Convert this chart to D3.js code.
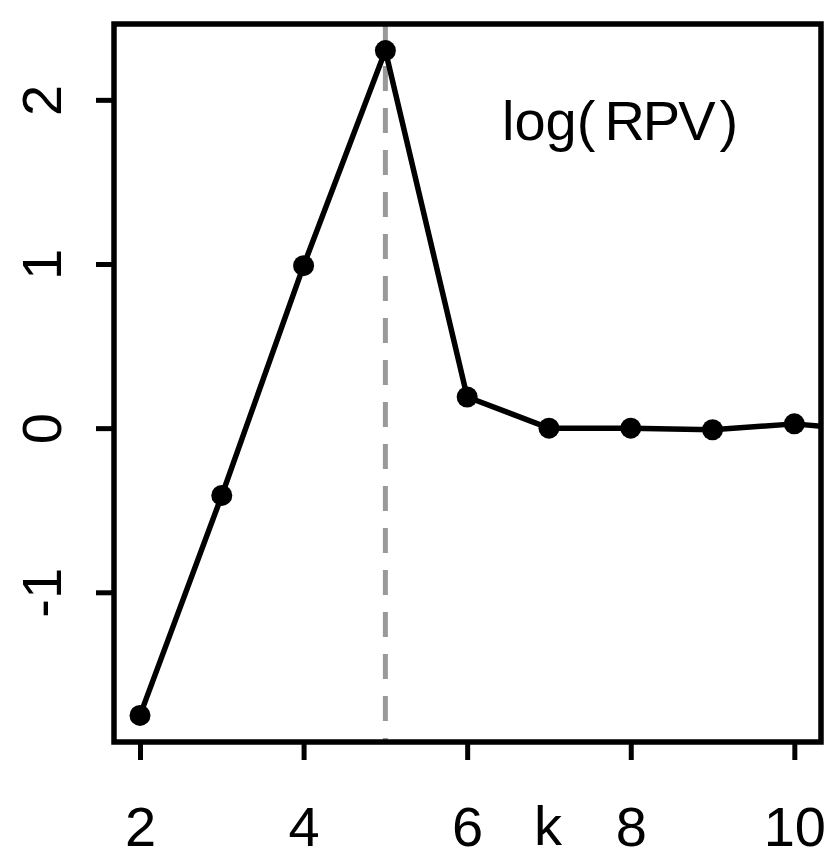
<!DOCTYPE html>
<html>
<head>
<meta charset="utf-8">
<script src="https://cdn.jsdelivr.net/npm/d3@7"></script>
<style>
  html, body { margin: 0; padding: 0; background: #fff; }
  svg { display: block; font-family: "Liberation Sans", Arial, sans-serif; }
</style>
</head>
<body>
<svg id="chart" width="828" height="859"></svg>
<script>
// Data
const kValues = [2, 3, 4, 5, 6, 7, 8, 9, 10, 11];
const logRPV = [-1.75, -0.41, 0.99, 2.30, 0.19, 0.0, 0.0, -0.01, 0.026, -0.02];
const xTicks = [2, 4, 6, 8, 10];
const yTicks = [-1, 0, 1, 2];
const optimalK = 5;
const xLabel = "k";
const panelLabel = ["log(", "RPV", ")"];

const box = { left: 114, right: 821, top: 24, bottom: 742 };

const svg = d3.select("#chart");

const x = d3.scaleLinear().domain([1.682, 10.326]).range([box.left, box.right]);
const y = d3.scaleLinear().domain([-1.912, 2.462]).range([box.bottom, box.top]);

svg.append("defs").append("clipPath").attr("id", "plotclip")
  .append("rect")
  .attr("x", box.left).attr("y", box.top)
  .attr("width", box.right - box.left).attr("height", box.bottom - box.top);

const plot = svg.append("g").attr("clip-path", "url(#plotclip)");

// dashed vertical line at optimal k
plot.append("line")
  .attr("x1", x(optimalK)).attr("x2", x(optimalK))
  .attr("y1", box.top).attr("y2", box.bottom)
  .attr("stroke", "#999")
  .attr("stroke-width", 5)
  .attr("stroke-dasharray", "25,17");

const pts = kValues.map((k, i) => [k, logRPV[i]]);

plot.append("path")
  .datum(pts)
  .attr("fill", "none")
  .attr("stroke", "#000")
  .attr("stroke-width", 5.5)
  .attr("stroke-linejoin", "round")
  .attr("d", d3.line().x(d => x(d[0])).y(d => y(d[1])));

plot.selectAll("circle.pt")
  .data(pts)
  .join("circle")
  .attr("class", "pt")
  .attr("cx", d => x(d[0]))
  .attr("cy", d => y(d[1]))
  .attr("r", 10.5)
  .attr("fill", "#000");

// Box
svg.append("rect")
  .attr("x", box.left).attr("y", box.top)
  .attr("width", box.right - box.left).attr("height", box.bottom - box.top)
  .attr("fill", "none").attr("stroke", "#000").attr("stroke-width", 5.5);

// X axis
const xAxis = d3.axisBottom(x).tickValues(xTicks).tickSize(17).tickPadding(46).tickFormat(d => String(d));
const gx = svg.append("g").attr("transform", `translate(0,${box.bottom + 1})`).call(xAxis);
gx.select(".domain").remove();
gx.selectAll(".tick line").attr("stroke", "#000").attr("stroke-width", 5);
gx.selectAll(".tick text").attr("font-size", 56).attr("fill", "#000")
  .attr("font-family", "Liberation Sans, Arial, sans-serif").attr("dy", "0.71em");

// Y axis
const yAxis = d3.axisLeft(y).tickValues(yTicks).tickSize(17).tickPadding(0).tickFormat(d => String(d));
const gy = svg.append("g").attr("transform", `translate(${box.left - 1},0)`).call(yAxis);
gy.select(".domain").remove();
gy.selectAll(".tick line").attr("stroke", "#000").attr("stroke-width", 5);
gy.selectAll(".tick text")
  .attr("font-size", 56).attr("fill", "#000")
  .attr("font-family", "Liberation Sans, Arial, sans-serif")
  .attr("x", null).attr("dy", null)
  .attr("text-anchor", "middle")
  .attr("transform", `translate(${61 - box.left + 1},0) rotate(-90)`);

// X label k
svg.append("text")
  .attr("x", 548).attr("y", 845)
  .attr("text-anchor", "middle")
  .attr("font-size", 56)
  .attr("fill", "#000")
  .text(xLabel);

// Panel label log(RPV)
const lbl = svg.append("text")
  .attr("x", 502).attr("y", 140)
  .attr("font-size", 56)
  .attr("fill", "#000");
lbl.append("tspan").text(panelLabel[0]);
lbl.append("tspan").attr("dx", 9).attr("letter-spacing", -2).text(panelLabel[1]);
lbl.append("tspan").attr("dx", 6).text(panelLabel[2]);
</script>
</body>
</html>
